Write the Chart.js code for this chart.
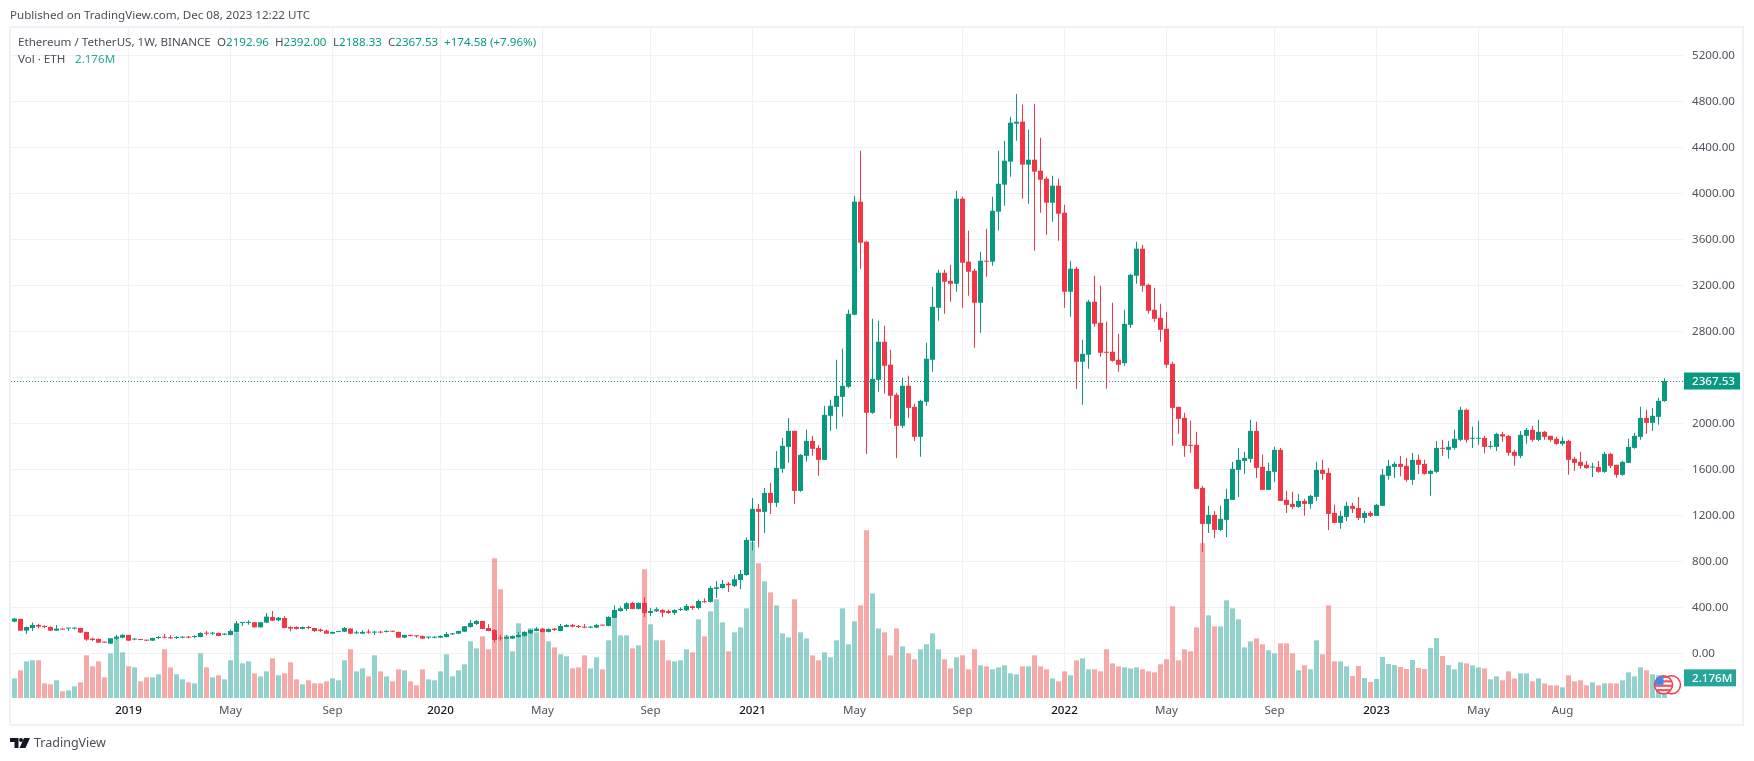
<!DOCTYPE html>
<html>
<head>
<meta charset="utf-8">
<title>ETHUSDT 1W</title>
<script src="https://cdn.jsdelivr.net/npm/chart.js@4"></script>
<style>
  html, body { margin: 0; padding: 0; background: #fff; }
  body { width: 1754px; height: 761px; position: relative; overflow: hidden; font-family: "Noto Sans", sans-serif; color: #4a4e59; }
  canvas { position: absolute; left: 0; top: 0; }
  #frame { position: absolute; left: 9px; top: 26px; width: 1735px; height: 700px; box-sizing: border-box; border: 2px solid #f0f1f6; }
  .txt { position: absolute; font-size: 11.6px; line-height: 16px; white-space: nowrap; }
  .val { color: #089981; }
  #brand { position: absolute; left: 34px; top: 733px; font-size: 12.5px; line-height: 20px; color: #4a4e59; }
  #logo { position: absolute; left: 10px; top: 738px; }
</style>
</head>
<body>
<div id="frame"></div>
<canvas id="chart" width="1754" height="761"></canvas>
<div class="txt" style="left:10px;top:7px">Published on TradingView.com, Dec 08, 2023 12:22 UTC</div>
<div class="txt" style="left:18px;top:34px">Ethereum / TetherUS, 1W, BINANCE</div>
<div class="txt" style="left:217px;top:34px">O<span class="val">2192.96</span></div>
<div class="txt" style="left:275px;top:34px">H<span class="val">2392.00</span></div>
<div class="txt" style="left:333px;top:34px">L<span class="val">2188.33</span></div>
<div class="txt" style="left:388px;top:34px">C<span class="val">2367.53</span></div>
<div class="txt val" style="left:444px;top:34px">+174.58 (+7.96%)</div>
<div class="txt" style="left:18px;top:51px">Vol · ETH</div>
<div class="txt" style="left:75px;top:51px;color:#26a69a">2.176M</div>
<svg id="logo" width="20" height="10" viewBox="0 0 20 10"><path d="M0 0h8.5v10H4.5V4H0z M14 0h6l-4.5 10H9.5z" fill="#131722"/><circle cx="11" cy="2" r="2" fill="#131722"/></svg>
<div id="brand">TradingView</div>
<script>
var opens = [275,299,197,220,246,238,229,197,212,215,
  215,220,185,128,125,99,84,128,136,160,
  119,122,116,110,133,142,139,133,136,145,
  142,142,177,171,177,162,159,186,264,264,
  270,226,267,316,287,307,229,229,212,226,
  220,206,197,171,186,188,215,174,171,188,
  180,188,186,194,186,136,160,157,151,136,
  136,136,142,165,171,188,229,255,281,220,
  203,136,128,128,142,151,174,194,215,186,
  215,194,229,246,238,229,223,223,246,238,
  307,368,386,438,386,438,351,365,377,368,
  351,377,374,409,394,449,447,560,568,606,
  586,638,681,977,1256,1230,1395,1308,1604,1795,
  1934,1412,1717,1847,1786,1682,2065,2143,2230,2317,
  2944,3927,3579,2091,2378,2709,2509,2248,1978,2326,
  2143,1882,2187,2552,3004,3309,3239,3213,3953,3405,
  3326,3048,3413,3405,3840,4075,4275,4605,4623,4249,
  4292,4196,4127,3918,4066,3831,3144,3344,2535,2596,
  3057,2874,2622,2622,2552,2523,2856,3283,3518,3204,
  2987,2917,2822,2517,2143,2047,1813,1813,1438,1125,
  1204,1073,1160,1334,1595,1673,1691,1934,1621,1421,
  1578,1769,1334,1299,1273,1325,1299,1360,1595,1569,
  1221,1134,1186,1282,1264,1177,1221,1195,1282,1543,
  1621,1647,1630,1508,1682,1647,1560,1578,1786,1769,
  1786,1856,2117,1865,1865,1873,1795,1795,1905,1891,
  1752,1717,1891,1943,1856,1926,1891,1865,1821,1847,
  1691,1665,1639,1615,1621,1578,1734,1639,1552,1656,
  1786,1882,2047,2004,2056,2192.96];

var highs = [304,301,232,267,258,241,235,246,214,221,
  226,223,188,136,128,100,133,160,165,162,
  130,124,117,136,148,168,157,148,148,150,
  154,183,194,188,180,175,206,281,272,287,
  272,273,351,368,316,322,235,235,232,240,
  223,215,206,188,197,229,218,197,200,206,
  197,197,200,196,188,162,162,160,154,145,
  148,154,186,177,197,238,290,290,284,252,
  212,159,157,155,186,191,209,229,220,215,
  220,255,252,255,246,255,238,255,247,322,
  417,409,447,447,442,487,394,400,383,380,
  383,400,429,415,467,478,586,629,638,620,
  681,725,1009,1351,1299,1438,1482,1760,1873,2047,
  1936,1734,1943,1891,1812,2152,2204,2552,2648,2987,
  3979,4370,3587,2909,2891,2848,2639,2265,2395,2413,
  2169,2204,2700,3187,3335,3335,3379,4022,3970,3674,
  3344,3492,3692,3970,4370,4457,4666,4863,4771,4553,
  4779,4483,4144,4153,4127,3900,3413,3361,2726,3074,
  3283,3196,2883,3048,2778,2987,3300,3579,3552,3213,
  3178,3039,2970,2535,2143,2091,2021,1926,1456,1282,
  1238,1282,1430,1665,1786,1752,2030,2013,1726,1656,
  1795,1786,1412,1404,1386,1343,1378,1665,1682,1612,
  1291,1238,1317,1308,1360,1238,1238,1299,1604,1682,
  1665,1716,1699,1743,1726,1682,1595,1847,1856,1847,
  1943,2143,2126,1969,2021,1891,1847,1917,1926,1899,
  1769,1934,1960,1978,2030,1934,1891,1882,1882,1856,
  1708,1752,1673,1656,1673,1752,1743,1639,1673,1865,
  1917,2143,2117,2134,2221,2392];

var lows = [270,194,168,194,215,218,194,194,203,194,
  206,177,110,107,90,90,83,116,130,108,
  113,114,108,108,125,130,125,125,130,130,
  130,139,154,160,148,159,157,183,238,249,
  224,224,264,278,278,218,191,206,209,209,
  186,186,168,168,183,186,165,168,168,171,
  159,174,180,186,133,133,148,136,125,125,
  130,133,139,160,168,186,223,246,209,191,
  93,110,122,125,136,145,168,191,180,180,
  194,191,226,226,220,217,217,220,238,235,
  302,362,368,383,380,316,325,360,316,342,
  333,368,368,377,383,438,441,481,562,534,
  577,560,675,893,919,1047,1212,1273,1569,1656,
  1299,1405,1665,1717,1543,1680,1934,1952,2056,2308,
  2940,3344,1734,2082,2274,2256,2039,1699,1960,2047,
  1847,1708,2152,2448,2891,2952,3057,3144,3004,3109,
  2656,2787,3274,3370,3674,3892,4144,4457,3953,3909,
  3500,3831,3640,3753,3587,3004,2926,2300,2161,2474,
  2839,2578,2300,2535,2448,2500,2830,3213,3144,2952,
  2883,2709,2482,1804,1908,1708,1743,1428,882,1047,
  1003,1064,1012,1332,1360,1560,1656,1525,1419,1419,
  1491,1323,1221,1256,1264,1195,1256,1325,1508,1073,
  1132,1082,1151,1221,1160,1134,1186,1193,1280,1508,
  1525,1540,1491,1465,1560,1552,1369,1569,1717,1691,
  1769,1847,1830,1786,1813,1737,1778,1760,1839,1717,
  1630,1699,1821,1839,1847,1856,1839,1813,1804,1552,
  1586,1604,1604,1534,1569,1569,1612,1526,1543,1654,
  1778,1856,1908,1934,1987,2188.33];

var closes = [302,197,229,246,232,229,197,215,206,220,
  220,180,119,116,93,93,130,145,160,110,
  125,116,110,133,142,136,130,142,142,136,
  148,177,171,177,151,171,194,261,267,270,
  226,270,319,284,310,220,215,212,229,220,
  194,194,171,186,191,220,171,180,186,180,
  188,180,194,188,136,160,151,148,128,142,
  142,151,168,174,194,235,264,281,212,194,
  116,128,142,151,159,186,203,215,186,212,
  203,238,246,232,229,223,229,246,241,316,
  377,391,435,386,438,351,368,383,354,351,
  377,386,412,394,455,444,568,574,603,592,
  644,690,986,1256,1230,1395,1308,1612,1804,1934,
  1412,1725,1847,1778,1682,2073,2152,2239,2326,2952,
  3927,3570,2091,2387,2709,2500,2239,1978,2326,2134,
  1882,2195,2561,3013,3309,3231,3213,3953,3396,3318,
  3048,3413,3405,3848,4083,4283,4614,4622,4249,4292,
  4188,4118,3918,4066,3822,3144,3344,2535,2604,3057,
  2865,2613,2613,2543,2509,2865,3291,3518,3196,2978,
  2909,2813,2509,2134,2039,1804,1804,1430,1125,1204,
  1073,1169,1343,1604,1682,1699,1934,1612,1421,1586,
  1769,1325,1290,1273,1325,1299,1369,1595,1560,1212,
  1134,1195,1282,1256,1177,1221,1195,1291,1552,1630,
  1647,1621,1508,1682,1639,1560,1586,1786,1778,1795,
  1865,2117,1856,1873,1873,1795,1801,1908,1885,1743,
  1717,1899,1943,1856,1926,1882,1856,1821,1847,1682,
  1656,1630,1610,1621,1578,1734,1630,1552,1665,1795,
  1891,2047,2004,2065,2195,2367.53];

// volume in millions of ETH
var volumes = [2.12,2.99,3.96,4.07,4.07,1.58,1.48,1.91,0.72,0.83,
  1.26,1.69,4.61,3.42,3.96,2.23,4.82,6.55,4.93,3.42,
  3.31,1.8,2.23,2.23,2.56,5.26,3.31,2.56,2.02,1.69,
  1.58,4.82,3.31,2.23,2.45,2.02,4.07,7.09,3.74,3.96,
  2.66,2.34,2.88,4.28,2.45,2.66,3.85,2.02,1.48,1.91,
  1.58,1.58,1.8,2.12,1.91,4.07,5.26,2.88,3.2,2.34,
  4.61,2.88,2.34,1.8,3.1,2.99,1.8,1.37,3.1,2.02,
  1.91,2.88,4.72,2.34,2.99,3.64,6.12,5.36,6.66,5.26,
  15.08,11.74,6.77,5.04,8.06,7.09,7.52,7.09,7.31,6.12,
  5.47,4.72,4.5,3.2,3.31,4.61,3.2,4.39,3.1,6.23,
  8.6,6.77,6.77,5.36,5.69,13.9,7.96,6.23,6.23,4.07,
  3.96,4.07,5.26,4.93,8.5,6.66,9.36,10.66,8.17,5.04,
  7.09,7.63,9.68,16.85,14.54,12.6,11.41,10.01,6.98,6.55,
  10.66,7.09,6.44,4.61,4.07,4.93,4.39,6.23,9.68,5.8,
  8.28,10.01,18.11,11.3,7.52,7.09,4.61,7.52,5.58,4.82,
  4.18,5.26,5.8,6.98,5.26,4.18,3.2,4.39,4.61,3.1,
  5.26,3.53,3.42,3.1,3.31,3.53,2.66,2.56,3.42,3.42,
  4.61,3.42,3.1,2.12,1.8,2.88,2.45,4.07,4.28,3.1,
  3.1,2.88,5.26,3.74,3.42,3.31,3.2,3.31,3.1,2.88,
  2.77,3.64,4.18,9.9,4.07,5.26,5.04,7.63,16.7,8.93,
  7.74,7.74,10.55,9.68,8.5,5.47,6.12,6.44,5.8,5.15,
  4.82,5.9,5.9,4.82,2.99,3.53,3.1,6.23,4.72,10.01,
  3.96,3.96,3.42,2.38,3.46,2.16,1.73,2.05,4.43,3.67,
  3.56,3.35,3.13,4.1,3.24,3.13,5.4,6.48,4.54,3.56,
  3.1,3.85,3.74,3.53,3.31,3.2,2.02,2.34,1.91,2.88,
  2.12,2.66,2.66,1.8,2.12,1.58,1.37,1.37,1.15,2.45,
  1.8,1.91,1.37,1.69,1.37,1.58,1.58,1.58,1.91,2.77,
  2.34,3.31,2.99,2.56,2.45,2.176];

var priceTicks = [0,400,800,1200,1600,2000,2400,2800,3200,3600,4000,4400,4800,5200];
// week index of each time axis label
var timeTickWeeks = [19,36,53,71,88,106,123,140,158,175,192,210,227,244,258];
var timeTickLabels = ["2019","May","Sep","2020","May","Sep","2021","May","Sep","2022","May","Sep","2023","May","Aug"];

var lastClose = closes[closes.length - 1];
var lastVolume = volumes[volumes.length - 1];

var upColor = '#089981', downColor = '#f23645';
var upVolume = 'rgba(38, 166, 154, 0.5)', downVolume = 'rgba(239, 83, 80, 0.5)';
var gridColor = '#f0f1f4';
var axisFont = '"Noto Sans", sans-serif';

function isUp(i) { return closes[i] >= opens[i]; }

var bodies = [], wicks = [], volumeBars = [], candleColors = [], volumeColors = [];
for (var i = 0; i < closes.length; i++) {
  bodies.push({ x: i, y: [opens[i], closes[i]] });
  wicks.push({ x: i, y: [lows[i], highs[i]] });
  volumeBars.push({ x: i, y: volumes[i] });
  candleColors.push(isUp(i) ? upColor : downColor);
  volumeColors.push(isUp(i) ? upVolume : downVolume);
}

function priceTag(ctx, x, y, w, color, text) {
  ctx.fillStyle = color;
  ctx.fillRect(x, y - 8.5, w, 17);
  ctx.fillStyle = '#fff';
  ctx.font = '500 11.6px ' + axisFont;
  ctx.textAlign = 'left';
  ctx.textBaseline = 'middle';
  ctx.fillText(text, x + 8, y + 0.5);
}

function drawFlag(ctx, x, y, r) {
  ctx.save();
  ctx.strokeStyle = downColor;
  ctx.lineWidth = 1.5;
  ctx.beginPath();
  ctx.arc(x + 8, y, r, 0, Math.PI * 2);
  ctx.stroke();
  ctx.fillStyle = '#fff';
  ctx.beginPath();
  ctx.arc(x, y, r, 0, Math.PI * 2);
  ctx.fill();
  ctx.stroke();
  ctx.clip();
  ctx.fillStyle = '#f7525f';
  for (var s = -r; s < r; s += 4.4) {
    ctx.fillRect(x - r, y + s, r * 2, 2.2);
  }
  ctx.fillStyle = '#3d8bf2';
  ctx.fillRect(x - r, y - r, r, r);
  ctx.restore();
}

// last price line, axis tags and the flag badge
var overlayPlugin = {
  id: 'overlay',
  afterDatasetsDraw: function(chart) {
    var ctx = chart.ctx, area = chart.chartArea;
    var py = chart.scales.y.getPixelForValue(lastClose);
    var vy = chart.scales.yVolume.getPixelForValue(lastVolume);
    var lastX = chart.scales.x.getPixelForValue(closes.length - 1);
    ctx.save();
    ctx.strokeStyle = upColor;
    ctx.lineWidth = 1;
    ctx.setLineDash([1, 2]);
    ctx.beginPath();
    ctx.moveTo(area.left, Math.round(py) + 0.5);
    ctx.lineTo(area.right, Math.round(py) + 0.5);
    ctx.stroke();
    ctx.setLineDash([]);
    drawFlag(ctx, lastX - 1, vy + 7, 9);
    priceTag(ctx, area.right + 1, py, 56, upColor, lastClose.toFixed(2));
    priceTag(ctx, area.right + 1, vy, 52, '#26a69a', lastVolume.toFixed(3) + 'M');
    ctx.restore();
  }
};

var ctx = document.getElementById("chart").getContext("2d");
var candleChart = new Chart(ctx, {
  type: 'bar',
  data: {
    datasets: [{
      label: 'Body',
      data: bodies,
      backgroundColor: candleColors,
      barThickness: 5,
      minBarLength: 1,
      inflateAmount: 0,
      grouped: false,
      order: 1
    }, {
      label: 'Wick',
      data: wicks,
      backgroundColor: candleColors,
      barThickness: 1,
      inflateAmount: 0,
      grouped: false,
      order: 2
    }, {
      label: 'Vol',
      data: volumeBars,
      backgroundColor: volumeColors,
      barThickness: 5,
      inflateAmount: 0,
      grouped: false,
      yAxisID: 'yVolume',
      order: 3
    }]
  },
  options: {
    responsive: false,
    animation: false,
    devicePixelRatio: 1,
    layout: { padding: { left: 11, top: 28, right: 10, bottom: 35 } },
    plugins: { legend: { display: false }, tooltip: { enabled: false } },
    scales: {
      x: {
        type: 'linear',
        bounds: 'data',
        offset: false,
        min: -0.5833,
        max: 278.0834,
        grid: { color: gridColor, drawTicks: false, offset: false },
        border: { display: false },
        afterBuildTicks: function(scale) {
          scale.ticks = timeTickWeeks.map(function(w) { return { value: w }; });
        },
        afterFit: function(scale) { scale.height = 26; },
        ticks: {
          autoSkip: false,
          maxRotation: 0,
          padding: 4,
          font: function(c) {
            return { family: axisFont, size: 11.6, weight: /^\d/.test(timeTickLabels[c.index]) ? '500' : '400' };
          },
          color: function(c) {
            return /^\d/.test(timeTickLabels[c.index]) ? '#131722' : '#50535e';
          },
          callback: function(value, index) { return timeTickLabels[index]; }
        }
      },
      y: {
        position: 'right',
        bounds: 'data',
        min: -406,
        max: 5437,
        grid: { color: gridColor, drawTicks: false },
        border: { display: false },
        afterBuildTicks: function(scale) {
          scale.ticks = priceTicks.map(function(v) { return { value: v }; });
        },
        afterFit: function(scale) { scale.width = 61; },
        ticks: {
          padding: 9,
          crossAlign: 'near',
          color: '#50535e',
          font: { family: axisFont, size: 11.6 },
          callback: function(value) { return value.toFixed(2); }
        }
      },
      yVolume: {
        display: false,
        bounds: 'data',
        min: -0.216,
        max: 72.36
      }
    }
  },
  plugins: [overlayPlugin]
});
</script>
</body>
</html>
